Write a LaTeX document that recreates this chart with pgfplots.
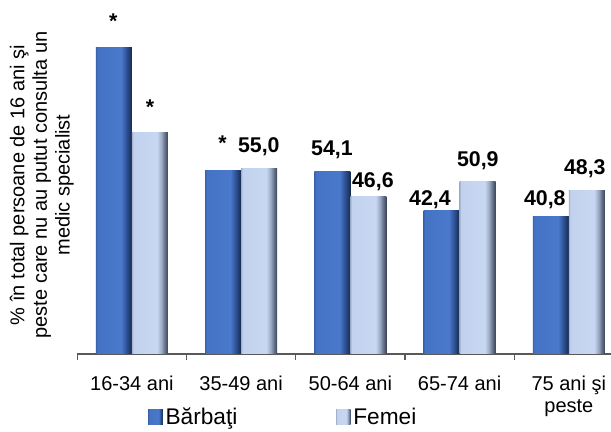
\documentclass[border=0pt]{standalone}
\usepackage{pgfplots}
\pgfplotsset{compat=1.18}
\usepackage{fontspec}
\setmainfont{Liberation Sans}

\definecolor{bbL}{HTML}{3A63AE}
\definecolor{bbM}{HTML}{4472C4}
\definecolor{bbM2}{HTML}{4A79CC}
\definecolor{bbR1}{HTML}{3358A0}
\definecolor{bbR2}{HTML}{223F74}
\definecolor{bbR3}{HTML}{15284C}
\definecolor{bfL}{HTML}{A3B3CD}
\definecolor{bfM}{HTML}{C2D2EE}
\definecolor{bfM2}{HTML}{C8D7F1}
\definecolor{bfR1}{HTML}{9BAAC4}
\definecolor{bfR2}{HTML}{606D84}
\definecolor{bfR3}{HTML}{3A4457}

\pgfdeclarehorizontalshading{barblue}{100bp}{color(0bp)=(bbL); color(25bp)=(bbL); color(27bp)=(bbM); color(60bp)=(bbM2); color(66bp)=(bbR1); color(71bp)=(bbR2); color(75bp)=(bbR3); color(100bp)=(bbR3)}
\pgfdeclarehorizontalshading{barlight}{100bp}{color(0bp)=(bfL); color(25bp)=(bfL); color(27bp)=(bfM); color(60bp)=(bfM2); color(66bp)=(bfR1); color(71bp)=(bfR2); color(75bp)=(bfR3); color(100bp)=(bfR3)}

\pgfplotstableread{
x y lab
1.162 59.47 55,0
1.831 58.58 54,1
2.206 49.11 46,6
2.728 43.79 42,4
3.167 55.33 50,9
3.780 43.79 40,8
4.146 53.25 48,3
}\labels
\pgfplotstableread{
x y lab
-0.171 98.5 *
0.165 73.1 *
0.830 62.4 *
}\stars

\pgfplotsset{
  bB/.style={ybar, bar width=27pt, bar shift=-13.5pt, draw=none, shade, shading=barblue,
    legend image code/.code={\path[draw=none, shade, shading=barblue] (0pt,-5.5pt) rectangle (11pt,5.5pt);}},
  bF/.style={ybar, bar width=27pt, bar shift=13.5pt, draw=none, shade, shading=barlight,
    legend image code/.code={\path[draw=none, shade, shading=barlight] (0pt,-5.5pt) rectangle (11pt,5.5pt);}},
}

\begin{document}
\begin{tikzpicture}
\begin{axis}[
  at={(0pt,0pt)}, anchor=south west,
  scale only axis, width=409.65pt, height=253.5pt,
  xmin=-0.5, xmax=4.5, ymin=0, ymax=100,
  clip=false,
  axis x line*=bottom, axis y line*=left,
  y axis line style={draw=none}, ytick=\empty,
  x axis line style={black!65, line width=0.8pt, -},
  xtick={0,1,2,3,4},
  xticklabels={16-34 ani, 35-49 ani, 50-64 ani, 65-74 ani, {75 ani şi\\peste}},
  major x tick style={draw=none},
  minor xtick={-0.5,0.5,1.5,2.5,3.5,4.5},
  minor x tick style={black!65, line width=0.8pt},
  minor tick length=4.5pt, tick align=outside,
  xticklabel style={font=\fontsize{15}{16.5}\selectfont, align=center, anchor=north, inner sep=0pt, yshift=-12pt},
  ylabel={\% în total persoane de 16 ani şi\\peste care nu au putut consulta un\\medic specialist},
  ylabel style={align=center, font=\fontsize{15}{17}\selectfont, at={(axis description cs:-0.006,0.5)}, anchor=south, inner sep=0pt},
  legend style={draw=none, fill=none, inner sep=0pt, at={(0.1294,-0.186)}, anchor=west,
    font=\fontsize{17}{19}\selectfont, legend columns=2,
    /tikz/every even column/.style={column sep=72pt},
    nodes={inner sep=2pt}},
  legend cell align=left,
]
\addplot[bB] coordinates {(0,90.7)};
\addlegendentry{Bărbaţi}
\addplot[bF] coordinates {(0,65.5)};
\addlegendentry{Femei}
\addplot[bB, forget plot] coordinates {(1,54.2)};
\addplot[bB, forget plot] coordinates {(2,54.1)};
\addplot[bB, forget plot] coordinates {(3,42.4)};
\addplot[bB, forget plot] coordinates {(4,40.8)};
\addplot[bF, forget plot] coordinates {(1,55.0)};
\addplot[bF, forget plot] coordinates {(2,46.6)};
\addplot[bF, forget plot] coordinates {(3,50.9)};
\addplot[bF, forget plot] coordinates {(4,48.3)};
\addplot[forget plot, only marks, mark=none, point meta=explicit symbolic, nodes near coords,
  nodes near coords style={anchor=base, inner sep=0pt, font=\bfseries\fontsize{16}{18}\selectfont, text=black}]
  table[x=x,y=y,meta=lab] {\labels};
\addplot[forget plot, only marks, mark=none, point meta=explicit symbolic, nodes near coords,
  nodes near coords style={anchor=center, inner sep=0pt, font=\bfseries\fontsize{16}{18}\selectfont, text=black}]
  table[x=x,y=y,meta=lab] {\stars};
\end{axis}
\pgfresetboundingbox
\path (-57.98pt,-58.5pt) rectangle (400.3pt,265.5pt);
\end{tikzpicture}
\end{document}
